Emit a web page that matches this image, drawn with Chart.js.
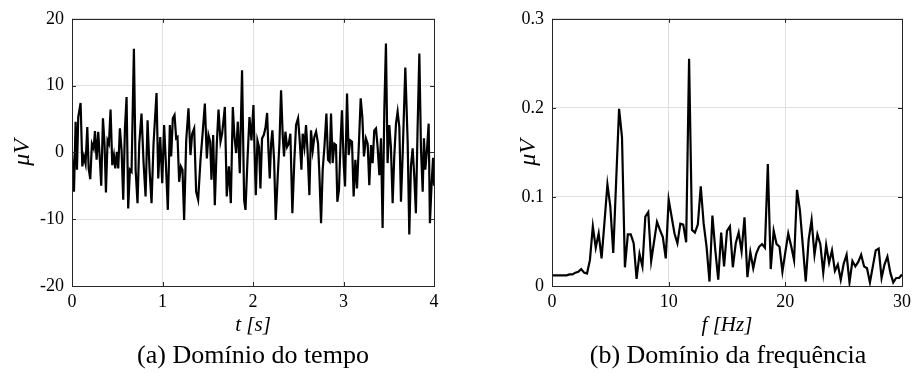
<!DOCTYPE html>
<html>
<head>
<meta charset="utf-8">
<script src="https://cdn.jsdelivr.net/npm/chart.js@4.4.1/dist/chart.umd.min.js"></script>
<style>
  body { margin: 0; background: #fff; width: 916px; height: 385px; position: relative; overflow: hidden; font-family: 'Liberation Serif', 'DejaVu Serif', 'Noto Serif', 'Times New Roman', Times, serif; }
  #boxTempo { position: absolute; left: 0; top: 0; width: 458px; height: 340px; }
  #boxFreq { position: absolute; left: 500px; top: 0; width: 416px; height: 340px; }
  .legenda { position: absolute; top: 339px; font-size: 26px; line-height: 32px; text-align: center; color: #000; white-space: nowrap; }
</style>
</head>
<body>
<div id="boxTempo"><canvas id="graficoTempo" width="458" height="340"></canvas></div>
<div id="boxFreq"><canvas id="graficoFreq" width="416" height="340"></canvas></div>
<div class="legenda" style="left:113px; width:280px;">(a) Domínio do tempo</div>
<div class="legenda" style="left:578px; width:300px;">(b) Domínio da frequência</div>

<script>
// sinal no tempo (s, uV)
const tempo = [
  0.000, 0.022, 0.040, 0.055, 0.069, 0.095, 0.114, 0.132, 0.150, 0.169,
  0.184, 0.202, 0.220, 0.239, 0.254, 0.272, 0.290, 0.309, 0.323, 0.342,
  0.360, 0.375, 0.393, 0.408, 0.426, 0.445, 0.463, 0.478, 0.496, 0.511,
  0.529, 0.548, 0.566, 0.585, 0.603, 0.621, 0.640, 0.658, 0.684, 0.703,
  0.724, 0.743, 0.768, 0.791, 0.813, 0.835, 0.857, 0.879, 0.901, 0.934,
  0.953, 0.975, 0.997, 1.018, 1.037, 1.059, 1.081, 1.096, 1.114, 1.133,
  1.151, 1.166, 1.184, 1.203, 1.221, 1.239, 1.262, 1.287, 1.309, 1.328,
  1.350, 1.372, 1.394, 1.420, 1.442, 1.468, 1.490, 1.508, 1.527, 1.541,
  1.560, 1.578, 1.600, 1.619, 1.641, 1.659, 1.689, 1.710, 1.733, 1.755,
  1.777, 1.795, 1.814, 1.832, 1.854, 1.879, 1.902, 1.917, 1.939, 1.961,
  1.983, 2.005, 2.016, 2.031, 2.049, 2.067, 2.082, 2.100, 2.119, 2.137,
  2.156, 2.170, 2.185, 2.200, 2.214, 2.233, 2.251, 2.273, 2.292, 2.310,
  2.329, 2.343, 2.358, 2.376, 2.395, 2.413, 2.435, 2.457, 2.476, 2.498,
  2.516, 2.535, 2.549, 2.568, 2.586, 2.604, 2.623, 2.641, 2.660, 2.678,
  2.697, 2.719, 2.734, 2.752, 2.770, 2.789, 2.811, 2.829, 2.847, 2.862,
  2.880, 2.899, 2.917, 2.932, 2.950, 2.969, 2.983, 3.002, 3.017, 3.039,
  3.057, 3.075, 3.094, 3.112, 3.131, 3.149, 3.171, 3.190, 3.208, 3.226,
  3.248, 3.267, 3.285, 3.304, 3.322, 3.340, 3.359, 3.377, 3.396, 3.414,
  3.432, 3.451, 3.469, 3.487, 3.506, 3.524, 3.543, 3.561, 3.580, 3.598,
  3.617, 3.635, 3.653, 3.683, 3.709, 3.727, 3.745, 3.764, 3.782, 3.800,
  3.819, 3.838, 3.856, 3.875, 3.889, 3.904, 3.922, 3.941, 3.955, 3.974,
  3.990, 4.000
];
const amplitude = [
  0.0, -5.9, 4.6, -2.6, 5.3, 7.4, -2.1, -0.6, -1.7, 3.8,
  -2.4, -4.0, 1.3, 0.6, 3.2, -1.1, 3.1, -1.4, -5.0, 5.1,
  1.1, -6.0, 1.8, 1.3, 6.4, -1.9, -0.4, -2.4, 0.1, -2.4,
  3.6, 0.3, -7.1, 3.6, 8.3, -8.4, -2.6, -2.9, 15.5, -2.6,
  -7.6, 1.3, 5.8, -1.6, -6.6, 4.8, -2.6, -7.6, 1.3, 8.9,
  -3.9, 2.3, -4.6, 4.1, -1.6, -8.6, 4.1, -0.6, 5.1, 5.6,
  2.1, 2.3, -4.4, -2.1, -2.6, -10.1, 1.8, 6.6, -0.4, 2.8,
  3.6, -5.9, -7.1, -1.1, 2.6, 7.3, -0.9, 2.6, 1.6, -4.1,
  2.6, -7.9, 1.3, 6.4, 1.6, 2.8, 6.8, -6.6, -2.1, -7.6,
  6.8, 2.3, -0.1, 4.6, -3.1, 12.3, -7.1, -8.6, -1.1, 5.3,
  1.8, 7.1, 0.8, -6.4, 1.8, 0.8, -5.4, 2.1, 2.6, 3.6,
  5.9, 0.6, -3.9, 1.3, 3.3, -1.1, -10.1, -3.6, 1.3, 9.3,
  2.3, -0.6, 3.1, 0.8, 1.3, 2.8, -9.1, -1.1, 4.1, 5.1,
  1.8, -2.6, 2.8, 0.8, 4.1, -0.1, -6.4, 3.3, 0.3, 2.3,
  3.1, 1.3, -3.4, -10.6, -2.6, 0.8, 5.8, -1.1, -1.4, 5.8,
  -1.6, 1.3, 1.1, -7.4, -5.6, 2.1, 6.3, -1.6, -5.1, 8.8,
  -0.4, 1.8, 1.6, -6.6, -1.1, -5.4, 1.6, 8.1, 5.3, -0.6,
  2.1, 1.3, -4.9, 1.1, -1.6, 3.3, 3.6, 0.8, -3.4, 2.1,
  -11.3, 6.3, 16.3, -1.6, 4.1, 0.8, -7.6, -0.6, 4.3, 6.1,
  3.8, -7.4, -0.6, 12.7, 1.6, -12.3, -2.1, 0.6, -3.6, -9.1,
  3.8, 14.8, 0.6, -5.9, 2.1, -2.6, 0.3, 4.3, -10.6, -4.5,
  -0.8, -5.0
];

// espectro (Hz, uV)
const frequencia = [
  0, 0.25, 0.5, 0.75, 1, 1.25, 1.5, 1.75, 2, 2.25, 2.5, 2.75,
  3, 3.25, 3.5, 3.75, 4, 4.25, 4.5, 4.75, 5, 5.25, 5.5, 5.75,
  6, 6.25, 6.5, 6.75, 7, 7.25, 7.5, 7.75, 8, 8.25, 8.5, 8.75,
  9, 9.25, 9.5, 9.75, 10, 10.25, 10.5, 10.75, 11, 11.25, 11.5, 11.75,
  12, 12.25, 12.5, 12.75, 13, 13.25, 13.5, 13.75, 14, 14.25, 14.5, 14.75,
  15, 15.25, 15.5, 15.75, 16, 16.25, 16.5, 16.75, 17, 17.25, 17.5, 17.75,
  18, 18.25, 18.5, 18.75, 19, 19.25, 19.5, 19.75, 20, 20.25, 20.5, 20.75,
  21, 21.25, 21.5, 21.75, 22, 22.25, 22.5, 22.75, 23, 23.25, 23.5, 23.75,
  24, 24.25, 24.5, 24.75, 25, 25.25, 25.5, 25.75, 26, 26.25, 26.5, 26.75,
  27, 27.25, 27.5, 27.75, 28, 28.25, 28.5, 28.75, 29, 29.25, 29.5, 29.75,
  30
];
const espectro = [
  0.012, 0.012, 0.012, 0.012, 0.012, 0.012, 0.013, 0.013, 0.015, 0.016, 0.019, 0.015,
  0.014, 0.029, 0.067, 0.043, 0.059, 0.031, 0.072, 0.114, 0.089, 0.037, 0.118, 0.199,
  0.167, 0.021, 0.058, 0.058, 0.048, 0.008, 0.036, 0.022, 0.078, 0.083, 0.028, 0.050,
  0.072, 0.063, 0.055, 0.031, 0.097, 0.078, 0.059, 0.048, 0.070, 0.069, 0.049, 0.255,
  0.063, 0.060, 0.069, 0.112, 0.070, 0.044, 0.005, 0.079, 0.040, 0.007, 0.060, 0.022,
  0.062, 0.067, 0.021, 0.048, 0.060, 0.039, 0.077, 0.010, 0.038, 0.020, 0.036, 0.044,
  0.047, 0.043, 0.137, 0.019, 0.062, 0.047, 0.044, 0.016, 0.038, 0.059, 0.045, 0.029,
  0.108, 0.085, 0.045, 0.005, 0.052, 0.074, 0.035, 0.058, 0.047, 0.015, 0.046, 0.026,
  0.040, 0.017, 0.024, 0.007, 0.025, 0.035, 0.004, 0.028, 0.022, 0.027, 0.035, 0.022,
  0.020, 0.004, 0.022, 0.040, 0.042, 0.009, 0.024, 0.033, 0.015, 0.004, 0.009, 0.009,
  0.013
];

const fonteSerif = "'Liberation Serif', 'DejaVu Serif', 'Noto Serif', 'Times New Roman', Times, serif";

// caixa fechada e marcas de escala para dentro, estilo MATLAB
const moldura = {
  id: 'moldura',
  afterDatasetsDraw(chart) {
    const { ctx, chartArea: a, scales: { x, y } } = chart;
    ctx.save();
    ctx.strokeStyle = '#262626';
    ctx.lineWidth = 1;
    ctx.beginPath();
    x.ticks.forEach(t => {
      const px = Math.round(x.getPixelForValue(t.value)) + 0.5;
      ctx.moveTo(px, a.bottom); ctx.lineTo(px, a.bottom - 4);
      ctx.moveTo(px, a.top); ctx.lineTo(px, a.top + 4);
    });
    y.ticks.forEach(t => {
      const py = Math.round(y.getPixelForValue(t.value)) + 0.5;
      ctx.moveTo(a.left, py); ctx.lineTo(a.left + 4, py);
      ctx.moveTo(a.right, py); ctx.lineTo(a.right - 4, py);
    });
    ctx.stroke();
    ctx.strokeRect(Math.round(a.left) + 0.5, Math.round(a.top) + 0.5,
      Math.round(a.right - a.left), Math.round(a.bottom - a.top));
    ctx.restore();
  }
};

function criaGrafico(id, xs, ys, eixoX, eixoY, larguraY, padTitulo, padDireita) {
  return new Chart(document.getElementById(id), {
    type: 'line',
    data: {
      datasets: [{
        data: xs.map((v, i) => ({ x: v, y: ys[i] })),
        borderColor: '#000',
        borderWidth: 2.2,
        pointRadius: 0,
        tension: 0,
        fill: false
      }]
    },
    options: {
      responsive: false,
      animation: false,
      layout: { padding: { top: 18, right: padDireita, left: 0, bottom: 0 } },
      plugins: { legend: { display: false }, tooltip: { enabled: false } },
      scales: {
        x: {
          type: 'linear',
          min: eixoX.min, max: eixoX.max,
          afterFit: s => { s.height = 54; },
          grid: { color: '#dfdfdf', drawTicks: false },
          border: { display: false },
          ticks: {
            stepSize: eixoX.passo, padding: 5, maxRotation: 0, autoSkip: false,
            color: '#000', font: { family: fonteSerif, size: 18 }
          },
          title: {
            display: true, text: eixoX.titulo, color: '#000',
            padding: { top: 0, bottom: 2 },
            font: { family: fonteSerif, size: 21, style: 'italic' }
          }
        },
        y: {
          type: 'linear',
          min: eixoY.min, max: eixoY.max,
          afterFit: s => { s.width = larguraY; },
          grid: { color: '#dfdfdf', drawTicks: false },
          border: { display: false },
          ticks: {
            stepSize: eixoY.passo, padding: 8, autoSkip: false,
            color: '#000', font: { family: fonteSerif, size: 18 }
          },
          title: {
            display: true, text: 'μV', color: '#000',
            padding: { top: padTitulo, bottom: 0 },
            font: { family: fonteSerif, size: 24, style: 'italic' }
          }
        }
      }
    },
    plugins: [moldura]
  });
}

criaGrafico('graficoTempo', tempo, amplitude,
  { min: 0, max: 4, passo: 1, titulo: 't [s]' },
  { min: -20, max: 20, passo: 10 }, 72, 8, 24);

criaGrafico('graficoFreq', frequencia, espectro,
  { min: 0, max: 30, passo: 10, titulo: 'f [Hz]' },
  { min: 0, max: 0.3, passo: 0.1 }, 52, 14, 12);
</script>
</body>
</html>
